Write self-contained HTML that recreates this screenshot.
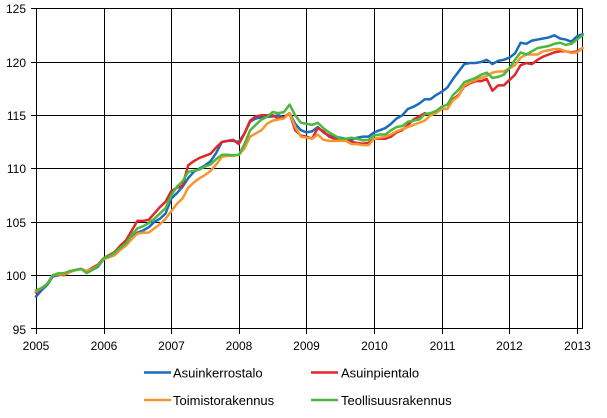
<!DOCTYPE html>
<html>
<head>
<meta charset="utf-8">
<style>
html,body{margin:0;padding:0;background:#fff;}
svg{display:block;}
text{font-family:"Liberation Sans",Arial,sans-serif;fill:#000;}
</style>
</head>
<body>
<svg width="607" height="418" viewBox="0 0 607 418" xmlns="http://www.w3.org/2000/svg">
<rect x="0" y="0" width="607" height="418" fill="#fff"/>
<!-- horizontal gridlines -->
<g stroke="#000" stroke-width="1" shape-rendering="crispEdges">
<line x1="31" y1="8.5" x2="582" y2="8.5"/>
<line x1="31" y1="62.5" x2="582" y2="62.5"/>
<line x1="31" y1="115.5" x2="582" y2="115.5"/>
<line x1="31" y1="168.5" x2="582" y2="168.5"/>
<line x1="31" y1="222.5" x2="582" y2="222.5"/>
<line x1="31" y1="275.5" x2="582" y2="275.5"/>
<line x1="31" y1="328.5" x2="582" y2="328.5"/>
<!-- vertical gridlines -->
<line x1="36.5" y1="8" x2="36.5" y2="334"/>
<line x1="104.5" y1="8" x2="104.5" y2="334"/>
<line x1="171.5" y1="8" x2="171.5" y2="334"/>
<line x1="239.5" y1="8" x2="239.5" y2="334"/>
<line x1="306.5" y1="8" x2="306.5" y2="334"/>
<line x1="374.5" y1="8" x2="374.5" y2="334"/>
<line x1="442.5" y1="8" x2="442.5" y2="334"/>
<line x1="509.5" y1="8" x2="509.5" y2="334"/>
<line x1="577.5" y1="8" x2="577.5" y2="334"/>
<line x1="582.5" y1="8" x2="582.5" y2="329"/>
</g>
<!-- y labels -->
<g font-size="12" text-anchor="end">
<text x="26" y="13">125</text>
<text x="26" y="67">120</text>
<text x="26" y="120">115</text>
<text x="26" y="173">110</text>
<text x="26" y="227">105</text>
<text x="26" y="280">100</text>
<text x="26" y="334">95</text>
</g>
<!-- x labels -->
<g font-size="12" text-anchor="middle">
<text x="36" y="350">2005</text>
<text x="104" y="350">2006</text>
<text x="171.5" y="350">2007</text>
<text x="239" y="350">2008</text>
<text x="306.5" y="350">2009</text>
<text x="374.5" y="350">2010</text>
<text x="442.5" y="350">2011</text>
<text x="509.5" y="350">2012</text>
<text x="577.5" y="350">2013</text>
</g>
<!-- series -->
<g fill="none" stroke-width="2.5" stroke-linejoin="round" stroke-linecap="round" transform="matrix(5.635 0 0 -10.667 36 1342)">
<polyline vector-effect="non-scaling-stroke" stroke="#1a6cbc" points="0,98.0 1,98.6 2,99.1 3,99.9 4,100.0 5,100.2 6,100.3 7,100.5 8,100.6 9,100.3 10,100.5 11,100.8 12,101.5 13,101.8 14,102.0 15,102.5 16,102.9 17,103.6 18,104.0 19,104.2 20,104.5 21,105.0 22,105.3 23,105.8 24,107.2 25,107.7 26,108.3 27,109.1 28,109.7 29,110.0 30,110.3 31,110.7 32,111.5 33,112.5 34,112.6 35,112.6 36,112.5 37,113.3 38,114.4 39,114.7 40,114.8 41,114.85 42,114.9 43,115.0 44,114.8 45,115.2 46,114.2 47,113.6 48,113.4 49,113.5 50,113.9 51,113.4 52,113.1 53,113.0 54,112.9 55,112.8 56,112.7 57,112.9 58,113.0 59,113.0 60,113.4 61,113.6 62,113.8 63,114.2 64,114.7 65,115.0 66,115.6 67,115.8 68,116.1 69,116.5 70,116.5 71,116.9 72,117.2 73,117.6 74,118.4 75,119.1 76,119.8 77,119.9 78,119.9 79,120.0 80,120.2 81,119.8 82,120.1 83,120.2 84,120.4 85,120.8 86,121.8 87,121.7 88,122.0 89,122.1 90,122.2 91,122.3 92,122.5 93,122.2 94,122.1 95,121.9 96,122.4 97,122.6"/>
<polyline vector-effect="non-scaling-stroke" stroke="#e0262a" points="0,98.4 1,98.8 2,99.2 3,100.0 4,100.1 5,100.0 6,100.3 7,100.5 8,100.6 9,100.4 10,100.7 11,101.0 12,101.6 13,101.9 14,102.2 15,102.8 16,103.3 17,104.2 18,105.1 19,105.1 20,105.2 21,105.8 22,106.4 23,106.9 24,107.9 25,108.2 26,108.4 27,110.3 28,110.7 29,111.0 30,111.2 31,111.4 32,112.0 33,112.5 34,112.6 35,112.7 36,112.3 37,113.3 38,114.5 39,114.9 40,115.0 41,115.0 42,115.0 43,114.7 44,114.8 45,115.2 46,113.6 47,113.1 48,113.0 49,112.8 50,113.8 51,113.5 52,113.0 53,112.8 54,112.75 55,112.7 56,112.5 57,112.4 58,112.35 59,112.4 60,112.8 61,112.8 62,112.8 63,113.0 64,113.4 65,113.6 66,114.1 67,114.6 68,114.9 69,115.2 70,115.0 71,115.3 72,115.6 73,115.6 74,116.5 75,116.9 76,117.7 77,118.0 78,118.2 79,118.2 80,118.4 81,117.3 82,117.8 83,117.8 84,118.3 85,118.8 86,119.7 87,119.9 88,119.8 89,120.2 90,120.5 91,120.7 92,120.9 93,121.0 94,121.0 95,120.9 96,121.0 97,121.3"/>
<polyline vector-effect="non-scaling-stroke" stroke="#f5972f" points="0,98.5 1,98.8 2,99.2 3,100.0 4,100.1 5,100.1 6,100.3 7,100.5 8,100.6 9,100.4 10,100.6 11,100.9 12,101.5 13,101.7 14,101.9 15,102.4 16,102.8 17,103.4 18,103.9 19,104.0 20,104.0 21,104.4 22,104.8 23,105.3 24,106.0 25,106.7 26,107.2 27,108.2 28,108.7 29,109.1 30,109.4 31,109.8 32,110.4 33,111.1 34,111.2 35,111.2 36,111.3 37,111.9 38,113.0 39,113.3 40,113.6 41,114.2 42,114.5 43,114.6 44,114.7 45,115.2 46,113.9 47,113.0 48,112.9 49,112.8 50,113.2 51,112.7 52,112.6 53,112.6 54,112.6 55,112.6 56,112.3 57,112.3 58,112.2 59,112.2 60,112.8 61,112.9 62,113.0 63,113.2 64,113.5 65,113.7 66,113.9 67,114.1 68,114.3 69,114.5 70,115.0 71,115.2 72,115.6 73,115.6 74,116.4 75,116.8 76,117.8 77,118.1 78,118.3 79,118.5 80,118.7 81,119.0 82,119.1 83,119.1 84,119.4 85,119.7 86,120.4 87,120.7 88,120.7 89,120.7 90,121.0 91,121.1 92,121.2 93,121.2 94,121.0 95,120.85 96,120.9 97,121.3"/>
<polyline vector-effect="non-scaling-stroke" stroke="#4cb83c" points="0,98.6 1,98.8 2,99.2 3,100.0 4,100.2 5,100.2 6,100.4 7,100.5 8,100.6 9,100.2 10,100.5 11,100.9 12,101.6 13,101.8 14,102.1 15,102.6 16,103.0 17,103.8 18,104.4 19,104.6 20,104.9 21,105.3 22,105.8 23,106.3 24,107.5 25,108.3 26,108.8 27,109.7 28,109.8 29,109.9 30,110.2 31,110.4 32,110.9 33,111.3 34,111.3 35,111.25 36,111.3 37,112.3 38,113.6 39,114.1 40,114.6 41,114.85 42,115.3 43,115.2 44,115.3 45,116.0 46,115.0 47,114.3 48,114.2 49,114.1 50,114.3 51,113.8 52,113.4 53,113.1 54,112.8 55,112.8 56,112.9 57,112.8 58,112.65 59,112.7 60,113.1 61,113.2 62,113.2 63,113.6 64,113.9 65,114.0 66,114.4 67,114.5 68,114.6 69,115.1 70,115.2 71,115.4 72,115.8 73,116.0 74,116.9 75,117.4 76,118.1 77,118.3 78,118.5 79,118.8 80,119.0 81,118.5 82,118.6 83,118.8 84,119.4 85,120.2 86,120.9 87,120.7 88,121.0 89,121.3 90,121.4 91,121.5 92,121.7 93,121.8 94,121.6 95,121.7 96,122.1 97,122.5"/>
</g>
<!-- legend -->
<g stroke-width="2.5">
<line x1="144" y1="372.5" x2="171" y2="372.5" stroke="#1a6cbc"/>
<line x1="311" y1="372.5" x2="338" y2="372.5" stroke="#e0262a"/>
<line x1="144" y1="400" x2="171" y2="400" stroke="#f5972f"/>
<line x1="311" y1="400" x2="338" y2="400" stroke="#4cb83c"/>
</g>
<g font-size="13">
<text x="173" y="377.5">Asuinkerrostalo</text>
<text x="341" y="377.5">Asuinpientalo</text>
<text x="173" y="405">Toimistorakennus</text>
<text x="341" y="405">Teollisuusrakennus</text>
</g>
</svg>
</body>
</html>
